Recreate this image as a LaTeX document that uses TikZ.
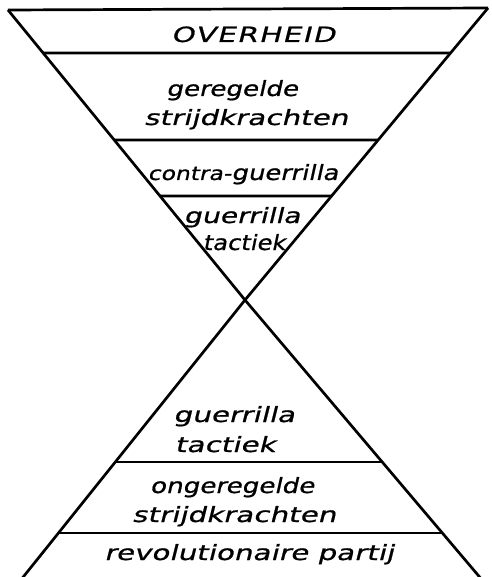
\documentclass[tikz,border=0pt]{standalone}
\usepackage{fontspec}
\usetikzlibrary{calc}
\newfontfamily\hand[FakeSlant=0.25,FakeStretch=1.4,FakeBold=0.8]{DejaVu Sans}
\newcommand{\hsq}[2]{\scalebox{#1}[1]{#2}}
\begin{document}
\begin{tikzpicture}[x=1pt,y=-1pt,
  edge/.style={line width=2.7pt, line cap=butt, line join=miter},
  lab/.style={anchor=base, inner sep=0pt, font=\hand\fontsize{21}{24}\selectfont}]
\useasboundingbox (0,0) rectangle (491,577);
\clip (0,0) rectangle (491,577);
% corner points
\coordinate (TL) at (8,10);
\coordinate (TR) at (488,8);
\coordinate (X) at (245,300);
\coordinate (BL) at (20,581);
\coordinate (BR) at (483,581);
% sides
\draw[edge] (TL) -- (X) -- (BR);
\draw[edge] (TR) -- (X) -- (BL);
\draw[edge] (TL) -- (TR);
% upper dividers
\coordinate (u1l) at ($(TL)!{(53-10)/290}!(X)$);
\coordinate (u1r) at ($(TR)!{(53-8)/292}!(X)$);
\coordinate (u2l) at ($(TL)!{(140-10)/290}!(X)$);
\coordinate (u2r) at ($(TR)!{(140-8)/292}!(X)$);
\coordinate (u3l) at ($(TL)!{(196-10)/290}!(X)$);
\coordinate (u3r) at ($(TR)!{(196-8)/292}!(X)$);
\draw[edge] (u1l) -- (u1r);
\draw[edge] (u2l) -- (u2r);
\draw[edge] (u3l) -- (u3r);
% lower dividers
\coordinate (d1l) at ($(X)!{(462-300)/281}!(BL)$);
\coordinate (d1r) at ($(X)!{(462-300)/281}!(BR)$);
\coordinate (d2l) at ($(X)!{(533-300)/281}!(BL)$);
\coordinate (d2r) at ($(X)!{(533-300)/281}!(BR)$);
\draw[edge] (d1l) -- (d1r);
\draw[edge] (d2l) -- (d2r);
% labels
\node[lab] (overheid) at (253,42) {\addfontfeature{LetterSpace=7}OVERHEID};
\node[lab] (geregelde) at (232,96) {\hsq{0.89}{geregelde}};
\node[lab] (strijd1) at (246,125) {strijdkrachten};
\node[lab] (contra) at (243,180) {\hsq{0.88}{{\fontsize{19}{22}\selectfont contra-}guerrilla}};
\node[lab] (guer1) at (242,223) {\hsq{0.96}{guerrilla}};
\node[lab] (tact1) at (244,250) {\hsq{0.82}{tactiek}};
\node[lab] (guer2) at (234,422) {guerrilla};
\node[lab] (tact2) at (225,452) {tactiek};
\node[lab] (ongeregelde) at (232,493) {\hsq{0.89}{ongeregelde}};
\node[lab] (strijd2) at (234,522) {strijdkrachten};
\node[lab] (partij) at (249,560) {revolutionaire partij};
\end{tikzpicture}
\end{document}
